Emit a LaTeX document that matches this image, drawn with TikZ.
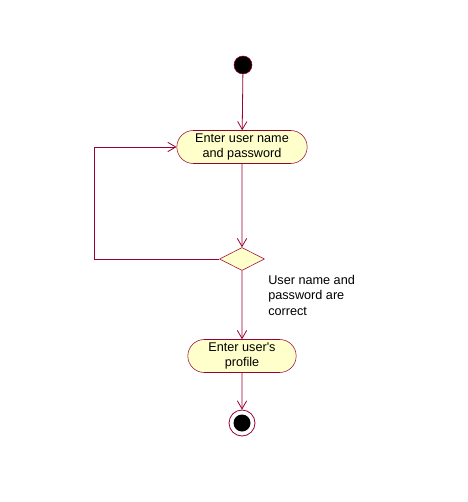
\documentclass[tikz,border=0pt]{standalone}
\usepackage{fontspec}
\setmainfont{Liberation Sans}
\usetikzlibrary{arrows.meta,shapes.geometric,shapes.misc}
\definecolor{umlline}{HTML}{990033}
\definecolor{umlfill}{HTML}{FFFFCC}
\tikzset{
  px/.style={x=0.75pt,y=-0.75pt},
  activity/.style={draw=umlline,fill=umlfill,rounded rectangle,minimum height=33*0.75pt,align=center,font=\fontsize{9.5}{11.5}\selectfont,inner sep=1pt},
  decision/.style={draw=umlline,fill=umlfill,diamond,minimum width=45*0.75pt,minimum height=23*0.75pt,inner sep=0pt},
  flow/.style={draw=umlline,line width=0.6pt,-{Straight Barb[length=6pt,width=7pt,line width=0.6pt]}},
  plain/.style={draw=umlline,line width=0.6pt},
  lbl/.style={font=\fontsize{9.5}{11.6}\selectfont,align=left,anchor=north west,inner sep=0pt}
}
\begin{document}
\begin{tikzpicture}[px]
\useasboundingbox (0,0) rectangle (467,502);
\node[circle,draw=umlline,fill=black,minimum size=18*0.75pt,inner sep=0pt] (start) at (243,65) {};
\node[activity,minimum width=133*0.75pt] (a1) at (242,147) {Enter user name\\and password};
\node[decision] (d) at (242,259) {};
\node[activity,minimum width=111*0.75pt] (a2) at (242,356) {Enter user\textquotesingle s\\profile};
\node[circle,draw=umlline,line width=0.6pt,minimum size=26*0.75pt,inner sep=0pt] (endo) at (242,423) {};
\node[circle,fill=black,minimum size=17*0.75pt,inner sep=0pt] (endi) at (242,423) {};
\coordinate (c1) at (94,259);
\coordinate (c2) at (94,147);
\draw[flow] (start) -- (a1);
\draw[flow] (a1) -- (d);
\draw[plain] (d.west) -- (c1) -- (c2);
\draw[flow] (c2) -- (a1.west);
\draw[flow] (d) -- (a2);
\draw[flow] (a2) -- (endo);
\node[lbl] (g) at (268,275) {User name and\\password are\\correct};
\end{tikzpicture}
\end{document}
